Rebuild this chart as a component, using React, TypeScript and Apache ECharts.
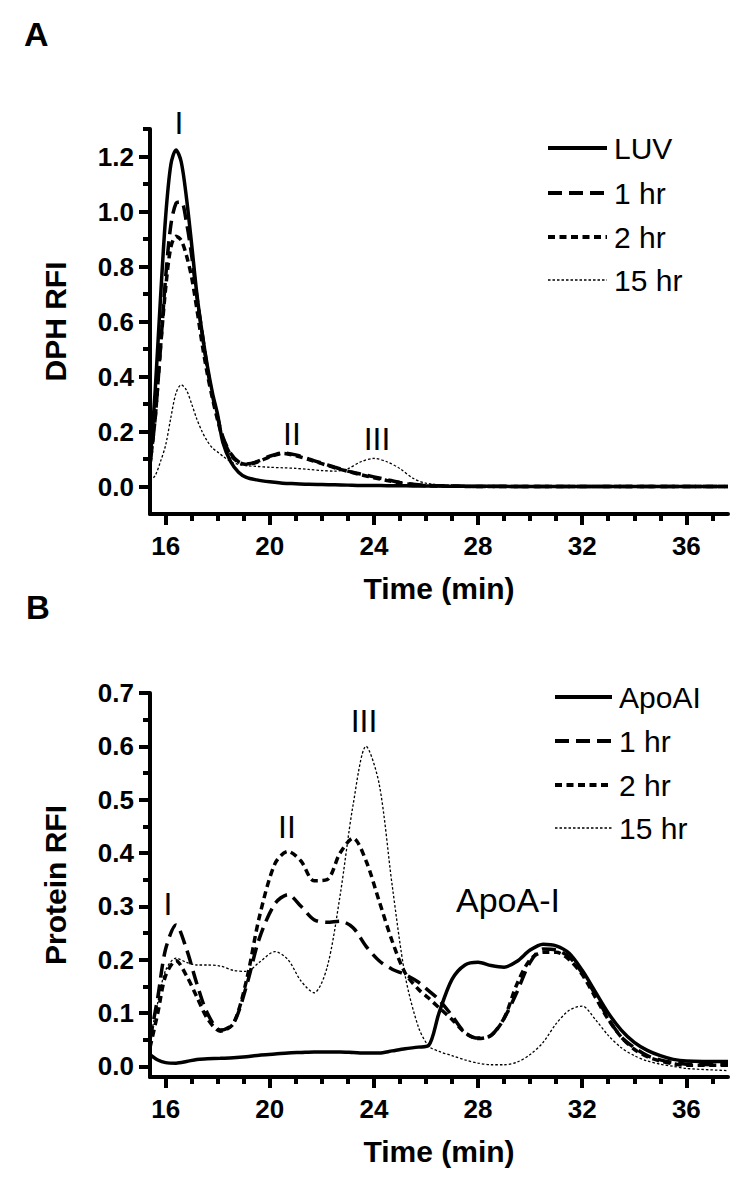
import React, { useEffect, useRef } from "react";
import * as echarts from "echarts";

// ---------- data ----------
const namesA = ["LUV", "1 hr", "2 hr", "15 hr"];
const namesB = ["ApoAI", "1 hr", "2 hr", "15 hr"];

const timeA = [15.4, 15.6, 15.8, 16.0, 16.2, 16.4, 16.6, 16.8, 17.0, 17.2, 17.4, 17.6, 17.8, 18.0, 18.2, 18.5, 18.8, 19.1, 19.5, 20.0, 20.5, 21.0, 21.5, 22.0, 22.5, 23.0, 23.5, 24.0, 24.5, 25.0, 25.5, 26.0, 27.0, 28.0, 30.0, 33.0, 37.6];
const luvA = [0.08, 0.35, 0.68, 0.98, 1.17, 1.224, 1.18, 1.05, 0.88, 0.7, 0.56, 0.44, 0.34, 0.26, 0.16, 0.09, 0.052, 0.033, 0.024, 0.017, 0.012, 0.01, 0.008, 0.007, 0.006, 0.005, 0.004, 0.004, 0.003, 0.003, 0.002, 0.002, 0.001, 0.001, 0, 0, 0];
const oneHrA = [0.08, 0.25, 0.5, 0.76, 0.95, 1.03, 1.035, 0.96, 0.84, 0.69, 0.56, 0.43, 0.33, 0.25, 0.18, 0.12, 0.09, 0.082, 0.09, 0.11, 0.122, 0.115, 0.1, 0.085, 0.07, 0.056, 0.045, 0.035, 0.025, 0.015, 0.008, 0.004, 0.002, 0, 0, 0, 0];
const twoHrA = [0.08, 0.25, 0.5, 0.72, 0.87, 0.91, 0.895, 0.84, 0.76, 0.645, 0.52, 0.41, 0.32, 0.24, 0.175, 0.115, 0.088, 0.08, 0.088, 0.108, 0.12, 0.112, 0.098, 0.083, 0.068, 0.055, 0.043, 0.032, 0.022, 0.013, 0.007, 0.003, 0.001, 0, 0, 0, 0];
const fifteenHrA = [0.02, 0.04, 0.09, 0.15, 0.25, 0.34, 0.37, 0.35, 0.3, 0.245, 0.2, 0.165, 0.14, 0.125, 0.11, 0.09, 0.08, 0.076, 0.073, 0.07, 0.068, 0.066, 0.062, 0.058, 0.056, 0.065, 0.09, 0.102, 0.09, 0.065, 0.03, 0.012, 0.003, 0, 0, 0, 0];

const timeB = [15.4, 15.7, 16.0, 16.4, 16.8, 17.2, 17.6, 18.1, 18.6, 19.1, 19.6, 20.2, 20.7, 21.2, 21.7, 22.2, 22.7, 23.2, 23.7, 24.2, 24.7, 25.2, 25.7, 26.1, 26.5, 27.0, 27.5, 28.0, 28.5, 29.0, 29.5, 30.0, 30.5, 31.0, 31.5, 32.0, 32.5, 33.0, 33.5, 34.0, 34.5, 35.0, 35.5, 36.0, 37.6];
const apoB = [0.022, 0.012, 0.007, 0.006, 0.009, 0.013, 0.014, 0.015, 0.016, 0.018, 0.021, 0.023, 0.025, 0.026, 0.027, 0.027, 0.027, 0.026, 0.025, 0.025, 0.029, 0.033, 0.036, 0.039, 0.1, 0.163, 0.19, 0.195, 0.189, 0.186, 0.197, 0.218, 0.229, 0.226, 0.212, 0.18, 0.14, 0.1, 0.068, 0.045, 0.03, 0.02, 0.013, 0.01, 0.009];
const oneHrB = [0.05, 0.13, 0.22, 0.265, 0.22, 0.155, 0.1, 0.068, 0.08, 0.15, 0.24, 0.305, 0.322, 0.3, 0.275, 0.27, 0.272, 0.26, 0.225, 0.198, 0.182, 0.172, 0.158, 0.142, 0.125, 0.095, 0.063, 0.053, 0.058, 0.09, 0.14, 0.195, 0.22, 0.218, 0.205, 0.175, 0.135, 0.09, 0.055, 0.035, 0.02, 0.012, 0.007, 0.004, 0.003];
const twoHrB = [0.035, 0.1, 0.17, 0.198, 0.17, 0.13, 0.09, 0.066, 0.08, 0.16, 0.28, 0.38, 0.403, 0.385, 0.348, 0.35, 0.4, 0.428, 0.385, 0.31, 0.235, 0.175, 0.145, 0.128, 0.11, 0.088, 0.063, 0.052, 0.058, 0.09, 0.155, 0.2, 0.214, 0.214, 0.2, 0.172, 0.13, 0.088, 0.055, 0.032, 0.018, 0.01, 0.005, 0.002, 0.002];
const fifteenHrB = [0.05, 0.12, 0.18, 0.203, 0.195, 0.19, 0.19, 0.188, 0.18, 0.178, 0.195, 0.215, 0.2, 0.16, 0.138, 0.185, 0.32, 0.49, 0.6, 0.53, 0.34, 0.17, 0.075, 0.038, 0.028, 0.02, 0.012, 0.006, 0.003, 0.003, 0.008, 0.022, 0.045, 0.08, 0.105, 0.113, 0.088, 0.058, 0.035, 0.02, 0.01, 0.004, 0, -0.004, -0.008];

const xMajorTicks = [16, 20, 24, 28, 32, 36];
const xMinorTicks = [17, 18, 19, 21, 22, 23, 25, 26, 27, 29, 30, 31, 33, 34, 35, 37];
const yMajorA = [0, 0.2, 0.4, 0.6, 0.8, 1.0, 1.2];
const yMinorA = [0.1, 0.3, 0.5, 0.7, 0.9, 1.1, 1.3];
const yMajorB = [0, 0.1, 0.2, 0.3, 0.4, 0.5, 0.6, 0.7];
const yMinorB = [0.05, 0.15, 0.25, 0.35, 0.45, 0.55, 0.65];

const annotationsA = [
  { text: "I", x: 179, y: 123 },
  { text: "II", x: 292, y: 434 },
  { text: "III", x: 377, y: 439 },
];
const annotationsB = [
  { text: "I", x: 168, y: 904 },
  { text: "II", x: 287, y: 827 },
  { text: "III", x: 364, y: 721 },
  { text: "ApoA-I", x: 508, y: 900 },
];

// ---------- styles ----------
const FONT = '"Liberation Sans", Arial, sans-serif';
const BLACK = "#000";
const lineStyles = [
  { type: "solid", width: 3.5, dash: null },
  { type: [14, 7], width: 3.5, dash: [14, 7] },
  { type: [7, 4.5], width: 3.5, dash: [7, 4.5] },
  { type: [2.5, 2], width: 1.3, dash: [2.5, 2] },
];

const X_MIN = 15.4;
const X_MAX = 37.6;

function pairs(xs: number[], ys: number[]) {
  return xs.map((x, i) => [x, ys[i]]);
}

function xAxes(gi: number) {
  return [
    {
      type: "value",
      gridIndex: gi,
      min: X_MIN,
      max: X_MAX,
      position: "bottom",
      name: "Time (min)",
      nameLocation: "middle",
      nameGap: 59,
      nameTextStyle: { fontSize: 30, fontWeight: "bold", color: BLACK, fontFamily: FONT },
      axisLine: { show: true, onZero: false, lineStyle: { color: BLACK, width: 4 } },
      axisTick: { show: true, customValues: xMajorTicks, length: 11, lineStyle: { color: BLACK, width: 4 } },
      axisLabel: {
        customValues: xMajorTicks,
        margin: 19,
        fontSize: 26,
        fontWeight: "bold",
        color: BLACK,
        fontFamily: FONT,
        formatter: (v: number) => String(Math.round(v)),
      },
      splitLine: { show: false },
    },
    {
      type: "value",
      gridIndex: gi,
      min: X_MIN,
      max: X_MAX,
      position: "bottom",
      axisLine: { show: false, onZero: false },
      axisTick: { show: true, customValues: xMinorTicks, length: 7, lineStyle: { color: BLACK, width: 4 } },
      axisLabel: { show: false },
      splitLine: { show: false },
    },
  ];
}

function yAxes(gi: number, min: number, max: number, major: number[], minor: number[], name: string, gap: number) {
  return [
    {
      type: "value",
      gridIndex: gi,
      min,
      max,
      position: "left",
      name,
      nameLocation: "middle",
      nameGap: gap,
      nameTextStyle: { fontSize: 30, fontWeight: "bold", color: BLACK, fontFamily: FONT },
      axisLine: { show: true, onZero: false, lineStyle: { color: BLACK, width: 4 } },
      axisTick: { show: true, customValues: major, length: 11, lineStyle: { color: BLACK, width: 4 } },
      axisLabel: {
        customValues: major,
        margin: 16,
        fontSize: 26,
        fontWeight: "bold",
        color: BLACK,
        fontFamily: FONT,
        formatter: (v: number) => v.toFixed(1),
      },
      splitLine: { show: false },
    },
    {
      type: "value",
      gridIndex: gi,
      min,
      max,
      position: "left",
      axisLine: { show: false, onZero: false },
      axisTick: { show: true, customValues: minor, length: 7, lineStyle: { color: BLACK, width: 4 } },
      axisLabel: { show: false },
      splitLine: { show: false },
    },
  ];
}

function makeSeries(names: string[], xs: number[], ys: number[][], axisIndex: number) {
  const order = [3, 2, 1, 0];
  return order.map((i) => ({
    type: "line",
    name: names[i] + (axisIndex === 0 ? " (A)" : " (B)"),
    xAxisIndex: axisIndex,
    yAxisIndex: axisIndex,
    data: pairs(xs, ys[i]),
    showSymbol: false,
    symbol: "none",
    smooth: 0.3,
    lineStyle: { color: BLACK, width: lineStyles[i].width, type: lineStyles[i].type as any },
    silent: true,
    z: 10 - i,
  }));
}

function legendGraphics(names: string[], x0: number, x1: number, textX: number, rows: number[]) {
  const els: any[] = [];
  names.forEach((n, i) => {
    const st: any = { stroke: BLACK, lineWidth: i === 3 ? 1.3 : 4 };
    if (lineStyles[i].dash) st.lineDash = lineStyles[i].dash;
    els.push({ type: "line", shape: { x1: x0, y1: rows[i], x2: x1, y2: rows[i] }, style: st, silent: true });
    els.push({
      type: "text",
      x: textX,
      y: rows[i],
      style: { text: n, fontSize: 30, fontFamily: FONT, fill: BLACK, align: "left", verticalAlign: "middle" },
      silent: true,
    });
  });
  return els;
}

function annotationGraphics(list: { text: string; x: number; y: number }[], size: number) {
  return list.map((a) => ({
    type: "text",
    x: a.x,
    y: a.y,
    style: {
      text: a.text,
      fontSize: a.text === "ApoA-I" ? 34 : size,
      fontFamily: FONT,
      fill: BLACK,
      align: "center",
      verticalAlign: "middle",
    },
    silent: true,
  }));
}

export default function App() {
  const ref = useRef<HTMLDivElement>(null);
  useEffect(() => {
    if (!ref.current) return;
    const chart = echarts.init(ref.current, undefined, { renderer: "svg" });
    const option: any = {
      animation: false,
      backgroundColor: "#fff",
      grid: [
        { left: 150, top: 129, width: 578, height: 385 },
        { left: 150, top: 693, width: 578, height: 384 },
      ],
      xAxis: [...xAxes(0), ...xAxes(1)],
      yAxis: [
        ...yAxes(0, -0.1, 1.3, yMajorA, yMinorA, "DPH RFI", 80),
        ...yAxes(1, -0.02, 0.7, yMajorB, yMinorB, "Protein RFI", 80),
      ],
      series: [
        ...makeSeries(namesA, timeA, [luvA, oneHrA, twoHrA, fifteenHrA], 0),
        ...makeSeries(namesB, timeB, [apoB, oneHrB, twoHrB, fifteenHrB], 2),
      ],
      graphic: [
        {
          type: "text",
          x: 24,
          y: 17,
          style: { text: "A", fontSize: 34, fontWeight: "bold", fontFamily: FONT, fill: BLACK },
        },
        {
          type: "text",
          x: 26,
          y: 591,
          style: { text: "B", fontSize: 33, fontWeight: "bold", fontFamily: FONT, fill: BLACK },
        },
        ...legendGraphics(namesA, 548, 607, 614, [148, 193, 237, 280]),
        ...legendGraphics(namesB, 555, 612, 619, [697, 741, 785, 828]),
        ...annotationGraphics(annotationsA, 32),
        ...annotationGraphics(annotationsB, 32),
      ],
    };
    chart.setOption(option);
    return () => chart.dispose();
  }, []);
  return (
    <div
      ref={ref}
      style={{ position: "absolute", left: 0, top: 0, width: 750, height: 1182, background: "#fff" }}
    />
  );
}
